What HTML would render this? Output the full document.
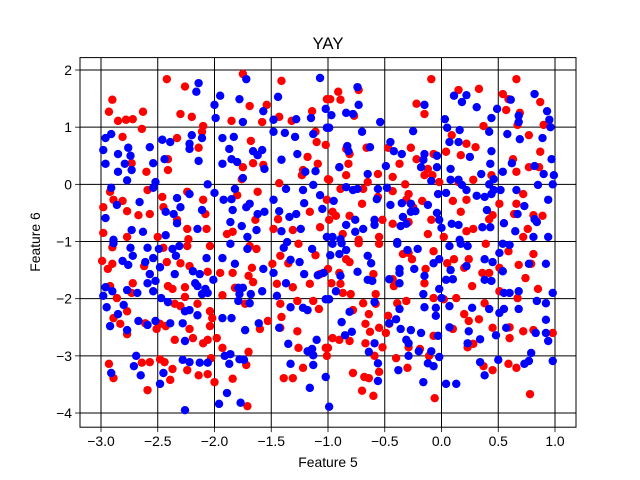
<!DOCTYPE html>
<html><head><meta charset="utf-8"><style>
html,body{margin:0;padding:0;background:#fff}
svg{display:block;font-family:"Liberation Sans","DejaVu Sans",sans-serif}
</style></head><body>
<svg id="chart" width="640" height="480" viewBox="0 0 640 480" xmlns="http://www.w3.org/2000/svg">
<rect width="640" height="480" fill="#fff"/>
<text x="328" y="49" text-anchor="middle" font-size="16.7">YAY</text>
<g id="grid"></g>
<g id="points"></g>
<rect x="80" y="57.6" width="496" height="369.6" fill="none" stroke="#000" stroke-width="1"/>
<g id="xticks"></g>
<g id="yticks"></g>
<text x="328" y="467" text-anchor="middle" font-size="13.9">Feature 5</text>
<text x="40" y="242" text-anchor="middle" font-size="13.9" transform="rotate(-90 40 242)">Feature 6</text>
</svg>
<script>
const xTicks=[-3.0,-2.5,-2.0,-1.5,-1.0,-0.5,0.0,0.5,1.0];
const xTickLabels=["−3.0","−2.5","−2.0","−1.5","−1.0","−0.5","0.0","0.5","1.0"];
const yTicks=[-4,-3,-2,-1,0,1,2];
const yTickLabels=["−4","−3","−2","−1","0","1","2"];
const redPts=[[-2.42,1.84],[-2.26,1.71],[-2.90,1.48],[-2.93,1.27],[-2.85,1.11],[-2.78,1.13],[-2.72,1.14],[-2.63,1.27],[-2.64,0.97],[-2.30,1.23],[-2.20,1.18],[-2.10,1.02],[-2.11,0.92],[-1.75,1.93],[-1.69,1.37],[-1.54,1.39],[-1.85,1.11],[-1.58,1.09],[-1.41,1.81],[-1.43,1.18],[-1.32,1.11],[-1.14,1.28],[-1.11,0.92],[-1.10,0.74],[-1.01,1.49],[-2.81,0.83],[-2.33,0.81],[-2.14,0.64],[-2.41,0.44],[-2.41,0.25],[-2.60,0.22],[-2.73,0.37],[-1.68,0.76],[-1.75,0.30],[-1.66,0.37],[-1.57,0.34],[-1.76,0.09],[-1.43,0.02],[-1.18,0.48],[-1.09,0.36],[-1.22,0.25],[-1.23,0.16],[-2.92,-0.13],[-2.89,-0.27],[-2.81,-0.29],[-2.98,-0.40],[-2.77,-0.47],[-2.67,-0.54],[-2.57,-0.52],[-2.59,-0.10],[-2.46,-0.22],[-2.45,-0.40],[-2.24,-0.13],[-2.10,-0.27],[-2.08,-0.52],[-2.33,-0.62],[-2.24,-0.78],[-2.07,-0.78],[-1.62,-0.13],[-1.80,-0.19],[-1.64,-0.62],[-1.89,-0.87],[-1.84,-0.83],[-1.44,-0.61],[-1.48,-0.78],[-1.31,-0.80],[-1.16,-0.48],[-1.07,-0.75],[-1.01,-0.27],[-2.98,-0.85],[-2.50,-0.92],[-2.77,-0.92],[-2.23,-0.96],[-1.00,0.09],
[-0.09,1.84],[-0.91,1.62],[-0.89,1.48],[-0.73,1.65],[-0.77,1.20],[-0.98,1.49],[-0.22,1.41],[-0.15,1.23],[0.15,1.65],[0.33,1.67],[0.54,1.58],[0.59,1.49],[0.57,1.30],[0.66,1.84],[0.69,1.25],[0.67,1.04],[0.87,1.44],[0.90,1.04],[0.37,1.02],[0.09,0.86],[0.22,0.71],[0.30,0.65],[0.17,0.51],[0.04,0.57],[-0.27,0.64],[-0.22,0.44],[-0.37,0.36],[-0.47,0.64],[-0.07,0.53],[-0.12,0.27],[-0.08,0.16],[-0.15,0.16],[-0.84,0.62],[-0.81,0.53],[-0.66,0.64],[-0.82,0.36],[-0.90,0.30],[-0.84,0.16],[-0.99,0.08],[-1.02,0.69],[-0.56,0.18],[-0.43,0.13],[-0.32,0.00],[-0.65,0.04],[-0.89,-0.08],[-0.69,-0.08],[-0.70,-0.34],[-0.43,-0.12],[-0.29,-0.17],[-0.31,-0.27],[-0.17,-0.29],[-0.25,-0.40],[-0.02,0.04],[0.15,0.04],[0.28,0.08],[0.44,0.16],[0.10,-0.29],[0.22,-0.27],[0.17,-0.48],[0.22,-0.82],[0.28,-0.78],[0.51,-0.34],[0.45,-0.54],[0.66,-0.34],[0.72,-0.17],[0.64,-0.52],[0.77,0.30],[0.86,0.30],[0.87,0.57],[0.77,0.86],[0.63,0.44],[0.66,0.22],[0.81,-0.54],[0.89,-0.55],[0.76,-0.78],[-0.96,-0.48],[-0.93,-0.55],[-0.81,-0.55],[-0.99,-0.62],[-0.87,-0.87],[-0.73,-0.97],[-0.55,-0.92],[-0.52,-0.62],[-0.43,-0.69],[-0.29,-0.66],[-0.09,-0.62],[-0.12,-0.87],[0.02,-0.92],[0.42,-0.61],[0.72,-0.92],[-0.56,-0.22],
[-2.90,-1.10],[-2.90,-1.39],[-2.94,-1.48],[-2.99,-1.34],[-2.92,-1.78],[-2.86,-1.99],[-2.72,-1.73],[-2.73,-1.90],[-2.77,-2.22],[-2.89,-2.34],[-2.83,-2.44],[-2.77,-2.62],[-2.62,-1.43],[-2.57,-1.57],[-2.45,-1.11],[-2.42,-1.36],[-2.30,-1.38],[-2.24,-1.08],[-2.22,-1.43],[-2.41,-1.78],[-2.37,-1.83],[-2.26,-1.80],[-2.26,-1.97],[-2.35,-2.09],[-2.30,-2.13],[-2.15,-2.09],[-2.04,-2.22],[-2.02,-2.34],[-2.04,-2.48],[-2.61,-2.43],[-2.51,-2.53],[-2.48,-2.44],[-2.43,-2.48],[-2.35,-2.72],[-2.22,-2.53],[-2.19,-2.69],[-2.10,-2.78],[-2.06,-2.72],[-1.98,-2.69],[-1.93,-2.86],[-1.70,-2.93],[-2.04,-1.08],[-2.06,-1.53],[-1.95,-1.55],[-1.84,-1.55],[-1.67,-1.46],[-1.70,-1.60],[-1.66,-1.71],[-1.93,-1.94],[-1.82,-1.81],[-1.73,-2.09],[-1.69,-1.08],[-1.63,-1.13],[-1.53,-2.39],[-1.60,-2.53],[-1.49,-1.39],[-1.42,-1.25],[-1.35,-1.38],[-1.26,-1.04],[-1.11,-1.24],[-1.45,-1.74],[-1.31,-1.80],[-1.27,-2.04],[-1.16,-1.74],[-1.13,-2.04],[-1.08,-2.18],[-1.42,-2.09],[-1.41,-2.32],[-1.42,-2.51],[-1.27,-2.57],[-1.26,-2.86],[-1.02,-2.86],[-1.01,-3.00],[-2.93,-3.14],[-2.89,-3.39],[-2.64,-3.12],[-2.57,-3.11],[-2.48,-3.06],[-2.44,-3.11],[-2.37,-3.23],[-2.24,-3.25],[-2.14,-3.34],[-2.06,-3.32],[-2.00,-3.46],[-2.03,-3.04],[-1.84,-3.40],[-1.72,-3.16],[-2.39,-3.42],[-2.59,-3.60],[-1.39,-3.39],[-1.31,-3.39],[-1.22,-3.21],[-1.71,-3.88],[-1.00,-1.48],[-1.07,-1.57],
[-0.73,-1.03],[-0.55,-1.04],[-0.84,-1.31],[-0.81,-1.36],[-0.97,-1.73],[-0.90,-1.55],[-0.89,-1.74],[-0.87,-1.90],[-0.80,-1.92],[-0.58,-1.92],[-0.60,-1.57],[-0.69,-2.08],[-0.58,-2.09],[-0.64,-2.27],[-0.78,-2.20],[-0.67,-2.44],[-0.63,-2.58],[-0.55,-2.51],[-0.96,-2.69],[-0.90,-2.72],[-0.81,-2.74],[-0.67,-2.78],[-0.52,-2.85],[-0.59,-3.00],[-0.55,-3.28],[-0.78,-3.30],[-0.68,-3.37],[-0.64,-3.39],[-0.70,-3.61],[-0.60,-3.70],[-1.00,-2.86],[-0.34,-1.22],[-0.26,-1.31],[-0.29,-1.20],[-0.07,-1.17],[-0.14,-1.48],[-0.15,-1.73],[-0.43,-1.66],[-0.42,-1.78],[-0.39,-2.08],[-0.31,-2.04],[-0.47,-2.30],[-0.46,-2.44],[-0.49,-2.60],[-0.29,-2.85],[-0.19,-2.88],[-0.40,-3.04],[-0.30,-3.21],[-0.11,-3.00],[-0.06,-3.74],[-0.07,-1.99],[0.02,-2.01],[0.13,-1.99],[0.05,-1.38],[0.11,-1.31],[0.24,-1.31],[0.20,-1.46],[0.27,-1.78],[0.36,-1.55],[0.42,-1.55],[0.20,-2.27],[0.24,-2.39],[0.33,-2.36],[0.38,-2.08],[0.10,-2.53],[0.23,-2.85],[0.28,-2.79],[-0.07,-2.65],[0.37,-3.18],[0.45,-3.25],[0.59,-3.14],[0.66,-3.21],[0.45,-2.51],[0.60,-2.50],[0.60,-2.69],[0.72,-2.57],[0.81,-2.55],[0.98,-2.60],[0.51,-1.87],[0.67,-1.99],[0.85,-1.83],[0.74,-1.64],[0.68,-1.41],[0.81,-1.22],[0.79,-1.39],[0.59,-1.17],[0.51,-1.46],[0.78,-3.67],[0.39,-1.04]];
const bluePts=[[-2.14,1.77],[-2.16,1.62],[-1.72,1.84],[-1.95,1.55],[-1.78,1.49],[-2.00,1.39],[-1.99,1.16],[-1.75,1.09],[-1.57,1.28],[-1.44,1.53],[-1.48,1.13],[-1.28,1.14],[-1.15,1.16],[-1.07,1.86],[-1.02,1.32],[-1.01,0.99],[-1.48,0.92],[-1.38,0.90],[-1.29,0.83],[-1.13,0.88],[-2.91,0.88],[-2.96,0.81],[-2.98,0.60],[-2.96,0.36],[-2.85,0.53],[-2.76,0.64],[-2.74,0.50],[-2.79,0.36],[-2.73,0.25],[-2.85,0.22],[-2.57,0.65],[-2.54,0.37],[-2.46,0.78],[-2.39,0.74],[-2.44,0.44],[-2.20,0.86],[-2.22,0.71],[-2.22,0.62],[-2.11,0.81],[-2.14,0.41],[-1.93,0.81],[-1.83,0.83],[-1.87,0.62],[-1.85,0.44],[-1.80,0.39],[-1.93,0.36],[-1.66,0.58],[-1.58,0.60],[-1.62,0.51],[-1.56,0.27],[-1.75,0.11],[-1.41,0.43],[-1.27,0.53],[-1.20,0.22],[-1.11,0.23],[-2.77,0.07],[-2.91,-0.06],[-2.52,0.04],[-2.54,-0.06],[-2.66,-0.31],[-2.86,-0.36],[-2.96,-0.59],[-2.73,-0.80],[-2.63,-0.83],[-2.89,-0.97],[-2.06,0.00],[-2.00,-0.15],[-2.22,-0.17],[-2.33,-0.24],[-2.43,-0.48],[-2.36,-0.52],[-2.30,-0.40],[-2.33,-0.68],[-2.11,-0.45],[-2.15,-0.78],[-2.43,-0.89],[-1.92,-0.27],[-1.85,-0.26],[-1.82,-0.08],[-1.84,-0.45],[-1.72,-0.40],[-1.69,-0.34],[-1.62,-0.52],[-1.56,-0.48],[-1.86,-0.66],[-1.76,-0.73],[-1.63,-0.80],[-1.71,-0.92],[-1.48,-0.27],[-1.43,-0.47],[-1.37,-0.08],[-1.34,-0.57],[-1.28,-0.52],[-1.41,-0.82],[-1.24,-0.78],[-1.22,-0.10],[-1.13,-0.01],[-1.07,-0.19],[-1.21,-0.33],[-1.05,-0.43],[-1.01,-0.92],[-1.36,-1.01],
[-0.74,1.70],[-0.73,1.39],[-0.84,1.25],[-0.78,1.23],[-0.97,1.21],[-0.99,0.99],[-0.54,1.09],[-0.70,0.92],[-0.15,1.39],[-0.25,0.93],[0.03,1.14],[0.05,0.99],[0.16,0.95],[0.11,1.55],[0.18,1.44],[0.22,1.56],[0.31,1.35],[0.44,1.16],[0.49,1.32],[0.61,1.48],[0.68,1.20],[0.68,1.09],[0.82,1.58],[0.93,1.28],[0.95,1.13],[0.96,1.00],[0.42,0.92],[0.58,0.88],[0.69,0.79],[0.89,0.81],[0.97,0.44],[0.82,0.32],[0.90,0.18],[0.99,0.16],[0.98,0.00],[0.85,-0.01],[0.44,0.58],[0.43,0.36],[0.25,0.48],[0.15,0.74],[0.07,0.74],[0.08,0.27],[0.08,0.08],[0.15,0.08],[0.18,-0.01],[0.22,-0.10],[0.35,0.18],[0.42,0.00],[0.46,0.09],[0.54,0.22],[0.62,0.37],[0.52,-0.10],[0.66,-0.10],[-0.83,0.67],[-0.82,0.58],[-0.63,0.65],[-0.90,0.30],[-0.65,0.18],[-0.45,0.74],[-0.42,0.58],[-0.35,0.53],[-0.15,0.53],[-0.16,0.43],[-0.18,0.30],[-0.04,0.50],[-0.04,0.30],[-0.49,0.32],[-0.09,0.06],[-0.84,-0.05],[-0.78,-0.10],[-0.74,-0.08],[-0.56,-0.08],[-0.48,-0.06],[-0.57,-0.26],[-0.45,-0.36],[-0.35,-0.33],[-0.27,-0.34],[-0.27,-0.48],[-0.23,-0.47],[-0.34,-0.57],[-0.31,-0.69],[-0.36,-0.73],[-0.12,-0.36],[-0.03,-0.17],[0.04,-0.15],[-0.04,-0.50],[-0.02,-0.62],[0.00,-0.76],[0.09,-0.69],[0.15,-0.71],[0.31,-0.20],[0.38,-0.22],[0.44,-0.17],[0.46,-0.10],[0.40,-0.45],[0.43,-0.75],[0.36,-0.75],[0.55,-0.68],[0.67,-0.52],[0.73,-0.38],[0.82,-0.61],[0.84,-0.66],[0.94,-0.27],[0.94,-0.92],[0.65,-0.82],[0.81,-0.92],[-0.76,-0.62],[-0.84,-0.71],[-0.69,-0.78],[-0.76,-0.83],[-0.59,-0.62],[-0.59,-0.71],[-0.95,-0.29],[-0.96,-0.92],[-0.89,-0.96],[0.16,-0.97],[-0.39,-1.01],
[-2.89,-1.03],[-2.74,-1.11],[-2.72,-1.25],[-2.81,-1.34],[-2.76,-1.41],[-2.59,-1.11],[-2.61,-1.36],[-2.54,-1.29],[-2.49,-1.13],[-2.48,-1.45],[-2.37,-1.13],[-2.34,-1.25],[-2.31,-1.08],[-2.57,-1.57],[-2.59,-1.73],[-2.52,-1.69],[-2.54,-1.87],[-2.68,-1.90],[-2.77,-1.85],[-2.96,-1.80],[-2.90,-1.87],[-2.98,-1.95],[-2.95,-2.15],[-2.85,-2.27],[-2.80,-2.11],[-2.92,-2.48],[-2.77,-2.55],[-2.67,-2.39],[-2.59,-2.46],[-2.52,-2.39],[-2.47,-1.99],[-2.41,-2.06],[-2.35,-1.57],[-2.19,-1.52],[-2.13,-1.57],[-2.17,-1.73],[-2.15,-1.78],[-2.08,-1.83],[-2.06,-1.90],[-2.11,-1.92],[-2.01,-1.67],[-2.07,-1.29],[-1.93,-1.29],[-1.86,-1.04],[-1.82,-1.39],[-1.71,-1.13],[-2.26,-2.22],[-2.22,-2.20],[-2.15,-2.29],[-2.39,-2.43],[-2.28,-2.43],[-2.26,-2.74],[-1.93,-2.34],[-1.85,-2.34],[-1.79,-1.81],[-1.75,-1.81],[-1.79,-2.04],[-1.78,-1.92],[-1.68,-1.92],[-1.69,-2.08],[-1.58,-1.87],[-1.57,-1.48],[-1.48,-1.55],[-1.73,-2.55],[-1.61,-2.43],[-1.45,-1.95],[-1.43,-2.51],[-1.39,-1.11],[-1.33,-1.32],[-1.25,-1.36],[-1.14,-1.13],[-1.21,-1.57],[-1.09,-1.59],[-1.04,-1.55],[-1.37,-1.73],[-1.33,-2.15],[-1.22,-2.16],[-1.18,-2.20],[-1.02,-2.01],[-1.10,-2.72],[-1.35,-2.79],[-1.18,-2.92],[-1.14,-2.88],[-1.13,-2.99],[-1.13,-3.16],[-1.33,-3.14],[-1.02,-3.37],[-1.16,-3.56],[-2.69,-3.00],[-2.71,-3.18],[-2.91,-3.30],[-2.65,-3.34],[-2.45,-3.30],[-2.48,-3.49],[-2.28,-3.07],[-2.22,-3.11],[-2.13,-3.12],[-2.06,-3.12],[-1.91,-3.00],[-1.86,-2.97],[-1.87,-3.14],[-1.78,-3.06],[-1.74,-3.07],[-1.89,-3.65],[-1.96,-3.84],[-1.77,-3.82],[-2.26,-3.95],[-0.99,-3.89],
[-0.96,-1.04],[-0.84,-1.15],[-0.90,-1.22],[-0.98,-1.24],[-0.88,-1.03],[-0.65,-1.25],[-0.62,-1.38],[-0.74,-1.53],[-0.89,-1.60],[-0.65,-1.67],[-0.61,-1.69],[-0.93,-1.87],[-0.99,-2.01],[-0.59,-2.06],[-0.81,-2.23],[-0.88,-2.41],[-0.79,-2.58],[-0.85,-2.64],[-0.59,-2.78],[-0.64,-2.93],[-0.56,-3.13],[-0.56,-3.44],[-0.39,-1.04],[-0.30,-1.15],[-0.21,-1.13],[-0.37,-1.48],[-0.37,-1.55],[-0.24,-1.48],[-0.46,-1.66],[-0.37,-1.73],[-0.15,-1.60],[-0.07,-1.38],[-0.02,-1.31],[-0.16,-1.92],[-0.15,-2.15],[-0.37,-2.18],[-0.40,-2.36],[-0.46,-2.43],[-0.36,-2.53],[-0.27,-2.55],[-0.31,-2.72],[-0.29,-2.78],[-0.18,-2.60],[-0.09,-2.92],[-0.20,-2.92],[-0.29,-3.00],[-0.12,-3.13],[-0.07,-3.18],[-0.02,-3.02],[-0.38,-3.25],[-0.16,-3.46],[0.04,-3.49],[0.13,-3.49],[0.07,-1.08],[0.17,-1.04],[0.23,-1.08],[0.08,-1.50],[0.04,-1.67],[0.10,-1.66],[-0.02,-1.83],[0.00,-1.99],[0.07,-2.13],[-0.05,-2.16],[-0.05,-2.30],[-0.03,-2.65],[0.07,-2.50],[0.24,-2.57],[0.34,-2.71],[0.23,-2.78],[0.27,-2.16],[0.22,-1.43],[0.38,-1.31],[0.45,-1.36],[0.51,-1.20],[0.38,-1.67],[0.44,-1.69],[0.54,-1.52],[0.55,-1.90],[0.60,-1.90],[0.68,-1.87],[0.42,-2.18],[0.51,-2.25],[0.55,-2.18],[0.68,-2.18],[0.48,-2.64],[0.57,-2.51],[0.84,-2.04],[0.92,-2.08],[0.98,-1.90],[0.92,-2.37],[0.92,-2.60],[0.83,-2.60],[0.94,-2.74],[0.79,-2.95],[0.77,-3.09],[0.73,-3.14],[0.50,-3.07],[0.98,-3.09],[0.34,-3.11],[0.38,-3.34],[0.54,-1.04],[0.77,-1.39],[0.92,-1.39],[0.60,-1.06]];

const X0=80,X1=576,Y0=57.6,Y1=427.2;
const xMin=-3.185,xMax=1.185,yMin=-4.248,yMax=2.217;
function sx(v){return X0+(v-xMin)/(xMax-xMin)*(X1-X0);}
function sy(v){return Y1-(v-yMin)/(yMax-yMin)*(Y1-Y0);}
const NS="http://www.w3.org/2000/svg";
function mk(tag,attrs,parent){const e=document.createElementNS(NS,tag);for(const k in attrs)e.setAttribute(k,attrs[k]);parent.appendChild(e);return e;}
const grid=document.getElementById('grid'),xg=document.getElementById('xticks'),yg=document.getElementById('yticks'),pg=document.getElementById('points');
xTicks.forEach((v,i)=>{const x=sx(v);
 const gl=mk('line',{x1:x,x2:x,y1:Y0,y2:Y1,stroke:'#000','stroke-width':1},grid);
 
 
 const t=mk('line',{x1:x,x2:x,y1:Y1,y2:Y1+4.9,stroke:'#000','stroke-width':0.8},xg);
 
 
 const l=mk('text',{x:x,y:Y1+19,'text-anchor':'middle','font-size':13.9},xg);l.textContent=xTickLabels[i];
 
 
});
yTicks.forEach((v,i)=>{const y=sy(v);
 const gl=mk('line',{x1:X0,x2:X1,y1:y,y2:y,stroke:'#000','stroke-width':1},grid);
 
 
 const t=mk('line',{x1:X0-4.9,x2:X0,y1:y,y2:y,stroke:'#000','stroke-width':0.8},yg);
 
 
 const l=mk('text',{x:X0-8,y:y+5,'text-anchor':'end','font-size':13.9},yg);l.textContent=yTickLabels[i];
 
 
});
redPts.forEach(p=>{const c=mk('circle',{cx:sx(p[0]),cy:sy(p[1]),r:4.2,fill:'#ff0000'},pg);
 
 
});
bluePts.forEach(p=>{const c=mk('circle',{cx:sx(p[0]),cy:sy(p[1]),r:4.2,fill:'#0000ff'},pg);
 
 
});
</script>
</body></html>
